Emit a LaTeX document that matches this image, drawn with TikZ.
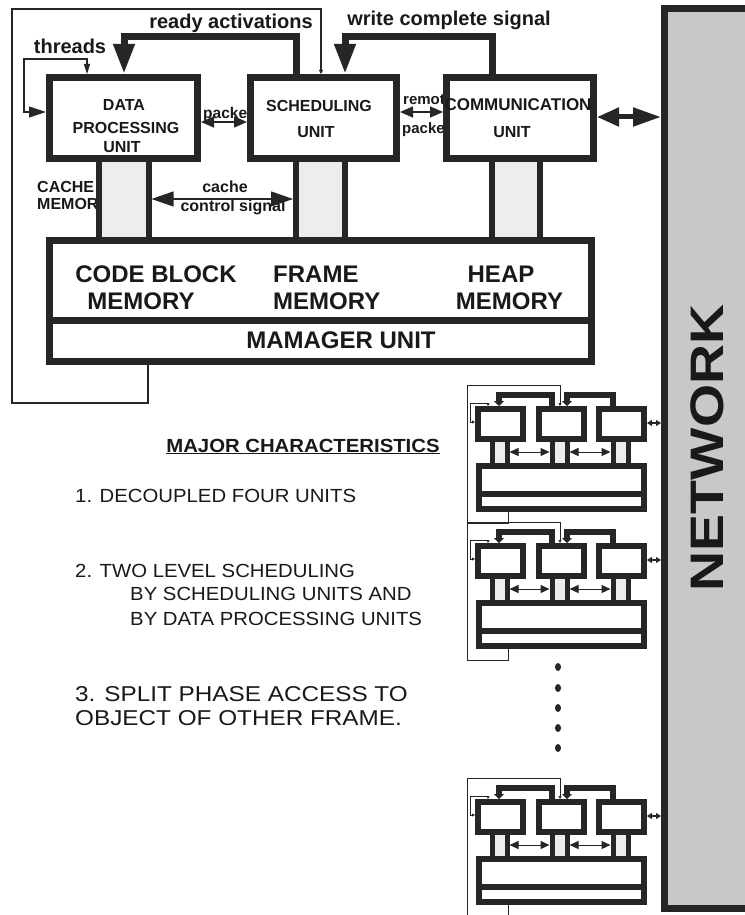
\documentclass[tikz,border=0pt]{standalone}
\usepackage{fontspec}
\setmainfont{Liberation Sans}
\usepackage{graphicx}
\usetikzlibrary{arrows.meta}
\definecolor{dk}{HTML}{262626}
\definecolor{colfill}{HTML}{EDEDED}
\definecolor{netfill}{HTML}{C8C8C8}
\newcommand\myfs[1]{\fontsize{#1}{#1}\selectfont}
\newcommand\minicopy[2]{%
\begin{scope}[shift={(0,#2)}]
 \coordinate (hx1#1) at (552,0); \coordinate (hy1#1) at (499,395);
 \coordinate (hx2#1) at (613,0); \coordinate (hy2#1) at (567,395);
 \draw[mheavy,-{Triangle[length=5pt,width=10pt]}] (hx1#1 |- 0,406) |- (hy1#1) -- (499,406);
 \draw[mheavy,-{Triangle[length=5pt,width=10pt]}] (hx2#1 |- 0,406) |- (hy2#1) -- (567,406);
 \node[mbox,minimum width=45pt,minimum height=30pt] (a#1) at (500.5,424) {};
 \node[mbox,minimum width=45pt,minimum height=30pt] (b#1) at (561.5,424) {};
 \node[mbox,minimum width=45pt,minimum height=30pt] (c#1) at (621.5,424) {};
 \node[mbox,minimum width=165pt,minimum height=43pt] (m#1) at (561.5,487.5) {};
 \coordinate (dv#1) at (0,494);
 \draw[mheavy] (m#1.west |- dv#1) -- (m#1.east |- dv#1);
 \foreach \xa/\xb in {492/507,552/567,613/628}{
   \fill[colfill] (\xa,442) rectangle (\xb,463);
   \draw[mcol] (\xa,442) -- (\xa,463);
   \draw[mcol] (\xb,442) -- (\xb,463);
 }
 \draw[line width=1pt,dk,{Triangle[length=9pt,width=8pt]}-{Triangle[length=9pt,width=8pt]}] (509.5,452) -- (549.5,452);
 \draw[line width=1pt,dk,{Triangle[length=9pt,width=8pt]}-{Triangle[length=9pt,width=8pt]}] (569.5,452) -- (610.5,452);
 \coordinate (ty#1) at (0,423);
 \draw[line width=1.5pt,dk,{Triangle[length=5pt,width=6pt]}-{Triangle[length=5pt,width=6pt]}] (c#1.east |- ty#1) -- (net.west |- ty#1);
 \coordinate (la#1) at (508,523); \coordinate (lb#1) at (467,385); \coordinate (lc#1) at (560,385);
 \draw[mthin,-{Triangle[length=3pt,width=3pt]}] (la#1 |- m#1.south) -- (la#1) -| (lb#1) -- (lc#1) -- (lc#1 |- b#1.north);
 \coordinate (tl#1) at (470,422); \coordinate (tm#1) at (488,403);
 \draw[mthin,{Triangle[length=3pt,width=3pt]}-{Triangle[length=3pt,width=3pt]}] (a#1.west |- tl#1) -- (tl#1) |- (tm#1) -- (tm#1 |- a#1.north);
\end{scope}}
\begin{document}
\begin{tikzpicture}[x=1pt,y=-1pt,
 heavy/.style={draw=dk,line width=7pt},
 ubox/.style={draw=dk,line width=7pt,fill=white,inner sep=0pt},
 colline/.style={draw=dk,line width=6pt},
 thinl/.style={draw=dk,line width=1.2pt},
 mheavy/.style={draw=dk,line width=6pt},
 mbox/.style={draw=dk,line width=6pt,fill=white,inner sep=0pt},
 mcol/.style={draw=dk,line width=5pt},
 mthin/.style={draw=dk,line width=1pt},
 lab/.style={inner sep=0pt,text=black!90,font=\bfseries\myfs{#1}},
 rg/.style={inner sep=0pt,text=black!90,font=\myfs{#1}}]
\fill[white] (0,0) rectangle (744,915);
\useasboundingbox (0,0) rectangle (744,915);

% occluded labels
\node[lab=15.5,anchor=base west] (pk) at (203,118) {packet};
\node[lab=15,anchor=base west] (rm) at (403,105) {remote};
\node[lab=15,anchor=base west] (rp) at (402,133) {packet};
\node[lab=16,anchor=base west] (ch) at (37,192) {CACHE};
\node[lab=16,anchor=base west] (cm) at (37,209) {MEMORY};

% heavy feedback connectors
\coordinate (xra) at (296,0); \coordinate (ra2) at (124,37);
\coordinate (xwc) at (492,0); \coordinate (wc2) at (345,37);
\draw[heavy,-{Triangle[length=30pt,width=20pt]}] (xra |- 0,80) |- (ra2) -- (124,74);
\draw[heavy,-{Triangle[length=30pt,width=20pt]}] (xwc |- 0,80) |- (wc2) -- (345,74);

% unit boxes
\node[ubox,minimum width=148pt,minimum height=81pt] (dpu) at (123.5,118) {};
\node[ubox,minimum width=146pt,minimum height=81pt] (su) at (323.5,118) {};
\node[ubox,minimum width=147pt,minimum height=81pt] (cu) at (520,118) {};
\node[ubox,minimum width=542pt,minimum height=121pt] (mem) at (320.5,301) {};
\node[draw=dk,line width=7pt,fill=netfill,inner sep=0pt,minimum width=90pt,minimum height=900pt] (net) at (709.5,458.5) {};

\coordinate (dv) at (0,320.5);
\draw[heavy] (mem.west |- dv) -- (mem.east |- dv);

% columns
\coordinate (k1) at (99,0); \coordinate (k2) at (148.5,0);
\coordinate (k3) at (296,0); \coordinate (k4) at (345,0);
\coordinate (k5) at (492,0); \coordinate (k6) at (540,0);
\fill[colfill] (k1 |- dpu.south) rectangle (k2 |- mem.north);
\fill[colfill] (k3 |- su.south) rectangle (k4 |- mem.north);
\fill[colfill] (k5 |- cu.south) rectangle (k6 |- mem.north);
\draw[colline] (k1 |- dpu.south) -- (k1 |- mem.north);
\draw[colline] (k2 |- dpu.south) -- (k2 |- mem.north);
\draw[colline] (k3 |- su.south) -- (k3 |- mem.north);
\draw[colline] (k4 |- su.south) -- (k4 |- mem.north);
\draw[colline] (k5 |- cu.south) -- (k5 |- mem.north);
\draw[colline] (k6 |- cu.south) -- (k6 |- mem.north);

% box texts
\node[lab=16,anchor=base] at (124,111) {DATA};
\node[lab=16,anchor=base] at (126,133) {PROCESSING};
\node[lab=16,anchor=base] at (122,152) {UNIT};
\node[lab=16,anchor=base] at (319,112) {SCHEDULING};
\node[lab=16,anchor=base] at (316,138) {UNIT};
\node[lab=17,anchor=base] at (518,111) {COMMUNICATION};
\node[lab=16,anchor=base] at (512,138) {UNIT};
\node[lab=24,anchor=base] at (156,282) {CODE BLOCK};
\node[lab=24,anchor=base] at (141,309) {MEMORY};
\node[lab=24,anchor=base west] at (273,282) {FRAME};
\node[lab=24,anchor=base west] at (273,309) {MEMORY};
\node[lab=24,anchor=base] at (501,282) {HEAP};
\node[lab=24,anchor=base] at (509.5,309) {MEMORY};
\node[lab=24,anchor=base] at (341,348) {MAMAGER UNIT};
\node[lab=47,rotate=90] at (707,448) {\scalebox{1.18}[1]{NETWORK}};

% top labels
\node[lab=20,anchor=base] at (231,29) {ready activations};
\node[lab=20,anchor=base] at (449,26) {write complete signal};
\node[lab=20,anchor=base] at (70,54) {threads};
\node[lab=16,anchor=base] at (225,192) {cache};
\node[lab=16,anchor=base] at (233,211) {control signal};

% arrows
\coordinate (pky) at (0,122);
\draw[line width=1.5pt,dk,{Triangle[length=13pt,width=11pt]}-{Triangle[length=13pt,width=11pt]}] (dpu.east |- pky) -- (su.west |- pky);
\coordinate (rpy) at (0,112);
\draw[line width=1.5pt,dk,{Triangle[length=13pt,width=11pt]}-{Triangle[length=13pt,width=11pt]}] (su.east |- rpy) -- (cu.west |- rpy);
\coordinate (cny) at (0,117);
\draw[line width=5pt,dk,{Triangle[length=22pt,width=18pt]}-{Triangle[length=28pt,width=18pt]}] (cu.east |- cny) -- (net.west |- cny);
\coordinate (cc1) at (151.5,199); \coordinate (cc2) at (293,199);
\draw[line width=1.2pt,dk,{Triangle[length=22pt,width=15pt]}-{Triangle[length=22pt,width=15pt]}] (cc1) -- (cc2);
\coordinate (t1) at (24,112); \coordinate (t2) at (87,59);
\draw[thinl,{Triangle[length=17pt,width=11pt]}-{Triangle[length=10pt,width=6pt]}] (dpu.west |- t1) -- (t1) |- (t2) -- (t2 |- dpu.north);
\coordinate (o1) at (148,403); \coordinate (o2) at (12,9); \coordinate (o3) at (321,9);
\draw[thinl,-{Triangle[length=4pt,width=4pt]}] (o1 |- mem.south) -- (o1) -| (o2) -- (o3) -- (o3 |- su.north);

% characteristics
\node[lab=19,anchor=base] (mc) at (303,452) {\scalebox{1.07}[1]{\underline{MAJOR CHARACTERISTICS}}};
\node[rg=19,anchor=base west] at (75,502) {\scalebox{1.07}[1]{1. DECOUPLED FOUR UNITS}};
\node[rg=19,anchor=base west] at (75,577) {\scalebox{1.07}[1]{2. TWO LEVEL SCHEDULING}};
\node[rg=19,anchor=base west] at (130,600) {\scalebox{1.07}[1]{BY SCHEDULING UNITS AND}};
\node[rg=19,anchor=base west] at (130,625) {\scalebox{1.07}[1]{BY DATA PROCESSING UNITS}};
\node[rg=21.5,anchor=base west] at (75,701) {\scalebox{1.13}[1]{3. SPLIT PHASE ACCESS TO}};
\node[rg=21.5,anchor=base west] at (75,725) {\scalebox{1.13}[1]{OBJECT OF OTHER FRAME.}};

% mini copies
\minicopy{p}{0}
\minicopy{q}{137}
\minicopy{r}{393}
\foreach \yy in {667,688,708,728,748}{\fill[dk] (558,\yy) ellipse [x radius=3pt, y radius=4pt];}
\end{tikzpicture}
\end{document}
